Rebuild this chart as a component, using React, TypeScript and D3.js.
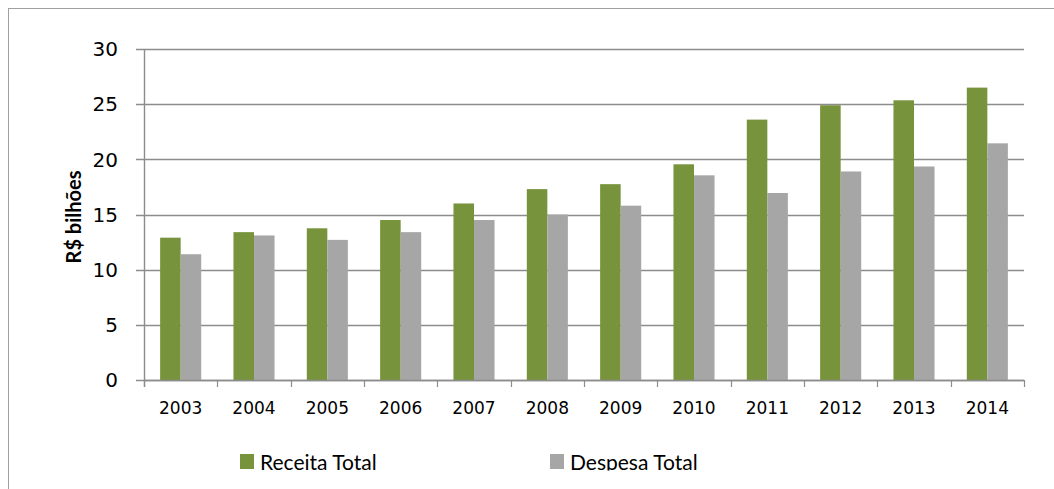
import React, { useEffect, useRef } from 'react';
import * as d3 from 'd3';

const years = ['2003', '2004', '2005', '2006', '2007', '2008', '2009', '2010', '2011', '2012', '2013', '2014'];
const receita = [12.9, 13.4, 13.75, 14.5, 16.0, 17.3, 17.75, 19.55, 23.6, 24.9, 25.35, 26.5];
const despesa = [11.4, 13.1, 12.7, 13.4, 14.5, 15.0, 15.8, 18.55, 16.95, 18.9, 19.35, 21.45];
const seriesNames = ['Receita Total', 'Despesa Total'];
const yTicks = [0, 5, 10, 15, 20, 25, 30];

const colors = ['#77933C', '#A6A6A6'];

const App: React.FC = () => {
  const svgRef = useRef<SVGSVGElement>(null);

  useEffect(() => {
    if (!svgRef.current) return;
    const width = 1054;
    const svg = d3.select(svgRef.current);
    svg.selectAll('*').remove();

    // outer frame (runs past the right and bottom edges)
    svg.append('rect')
      .attr('x', 8.5).attr('y', 8.5)
      .attr('width', 1200).attr('height', 700)
      .attr('fill', '#fff')
      .attr('stroke', '#a0a0a0')
      .attr('stroke-width', 1);

    const left = 144, right = 1024, top = 49, bottom = 380;

    const x0 = d3.scaleBand<string>().domain(years).range([left, right])
      .paddingInner(0.44).paddingOuter(0.22);
    const x1 = d3.scaleBand<string>().domain(seriesNames).range([0, x0.bandwidth()]);
    const y = d3.scaleLinear().domain([0, 30]).range([bottom, top]);
    const step = x0.step();

    // gridlines + y ticks
    svg.append('g').selectAll('line')
      .data(yTicks)
      .enter().append('line')
      .attr('x1', left - 8).attr('x2', right)
      .attr('y1', d => Math.round(y(d)) + 0.5)
      .attr('y2', d => Math.round(y(d)) + 0.5)
      .attr('stroke', '#8c8c8c')
      .attr('stroke-width', 1.4);

    svg.append('g').selectAll('text')
      .data(yTicks)
      .enter().append('text')
      .attr('x', 118)
      .attr('y', d => y(d))
      .attr('dy', '0.36em')
      .attr('text-anchor', 'end')
      .attr('font-family', 'DejaVu Sans')
      .attr('font-size', 20)
      .attr('fill', '#000')
      .text(d => d);

    // bars
    const data = years.map((yr, i) => ({ yr, vals: [receita[i], despesa[i]] }));
    const grp = svg.append('g').selectAll('g')
      .data(data)
      .enter().append('g')
      .attr('transform', d => `translate(${x0(d.yr)},0)`);
    grp.selectAll('rect')
      .data(d => d.vals.map((v, k) => ({ v, k })))
      .enter().append('rect')
      .attr('x', d => x1(seriesNames[d.k])!)
      .attr('width', x1.bandwidth())
      .attr('y', d => y(d.v))
      .attr('height', d => bottom - y(d.v))
      .attr('fill', d => colors[d.k]);

    // axes lines
    svg.append('line')
      .attr('x1', left + 0.5).attr('x2', left + 0.5)
      .attr('y1', top).attr('y2', bottom + 7)
      .attr('stroke', '#8c8c8c').attr('stroke-width', 1.4);
    svg.append('line')
      .attr('x1', left).attr('x2', right)
      .attr('y1', bottom + 0.5).attr('y2', bottom + 0.5)
      .attr('stroke', '#8c8c8c').attr('stroke-width', 1.4);
    svg.append('g').selectAll('line')
      .data(d3.range(years.length + 1))
      .enter().append('line')
      .attr('x1', i => Math.round(left + i * step) + 0.5)
      .attr('x2', i => Math.round(left + i * step) + 0.5)
      .attr('y1', bottom).attr('y2', bottom + 7)
      .attr('stroke', '#8c8c8c').attr('stroke-width', 1.2);

    svg.append('g').selectAll('text')
      .data(years)
      .enter().append('text')
      .attr('x', d => x0(d)! + x0.bandwidth() / 2)
      .attr('y', 414)
      .attr('text-anchor', 'middle')
      .attr('font-family', 'DejaVu Sans')
      .attr('font-size', 17)
      .attr('fill', '#000')
      .text(d => d);

    // y title
    svg.append('text')
      .attr('transform', 'translate(81,217) rotate(-90)')
      .attr('text-anchor', 'middle')
      .attr('font-family', 'Lato')
      .attr('font-weight', 'bold')
      .attr('font-size', 20)
      .attr('fill', '#000')
      .text('R$ bilhões');

    // legend, clipped at the baseline like the source
    const clip = svg.append('clipPath').attr('id', 'legclip');
    clip.append('rect').attr('x', 0).attr('y', 0).attr('width', width).attr('height', 470.5);
    const leg = svg.append('g').attr('clip-path', 'url(#legclip)');
    const legX = [240, 550];
    seriesNames.forEach((name, k) => {
      leg.append('rect')
        .attr('x', legX[k]).attr('y', 454)
        .attr('width', 14).attr('height', 15)
        .attr('fill', colors[k]);
      leg.append('text')
        .attr('x', legX[k] + 20).attr('y', 470)
        .attr('font-family', 'Lato')
        .attr('font-size', 21)
        .attr('fill', '#000')
        .text(name);
    });
  }, []);

  return (
    <svg ref={svgRef} width={1054} height={489}
      style={{ position: 'absolute', left: 0, top: 0, background: '#fff' }} />
  );
};

export default App;
